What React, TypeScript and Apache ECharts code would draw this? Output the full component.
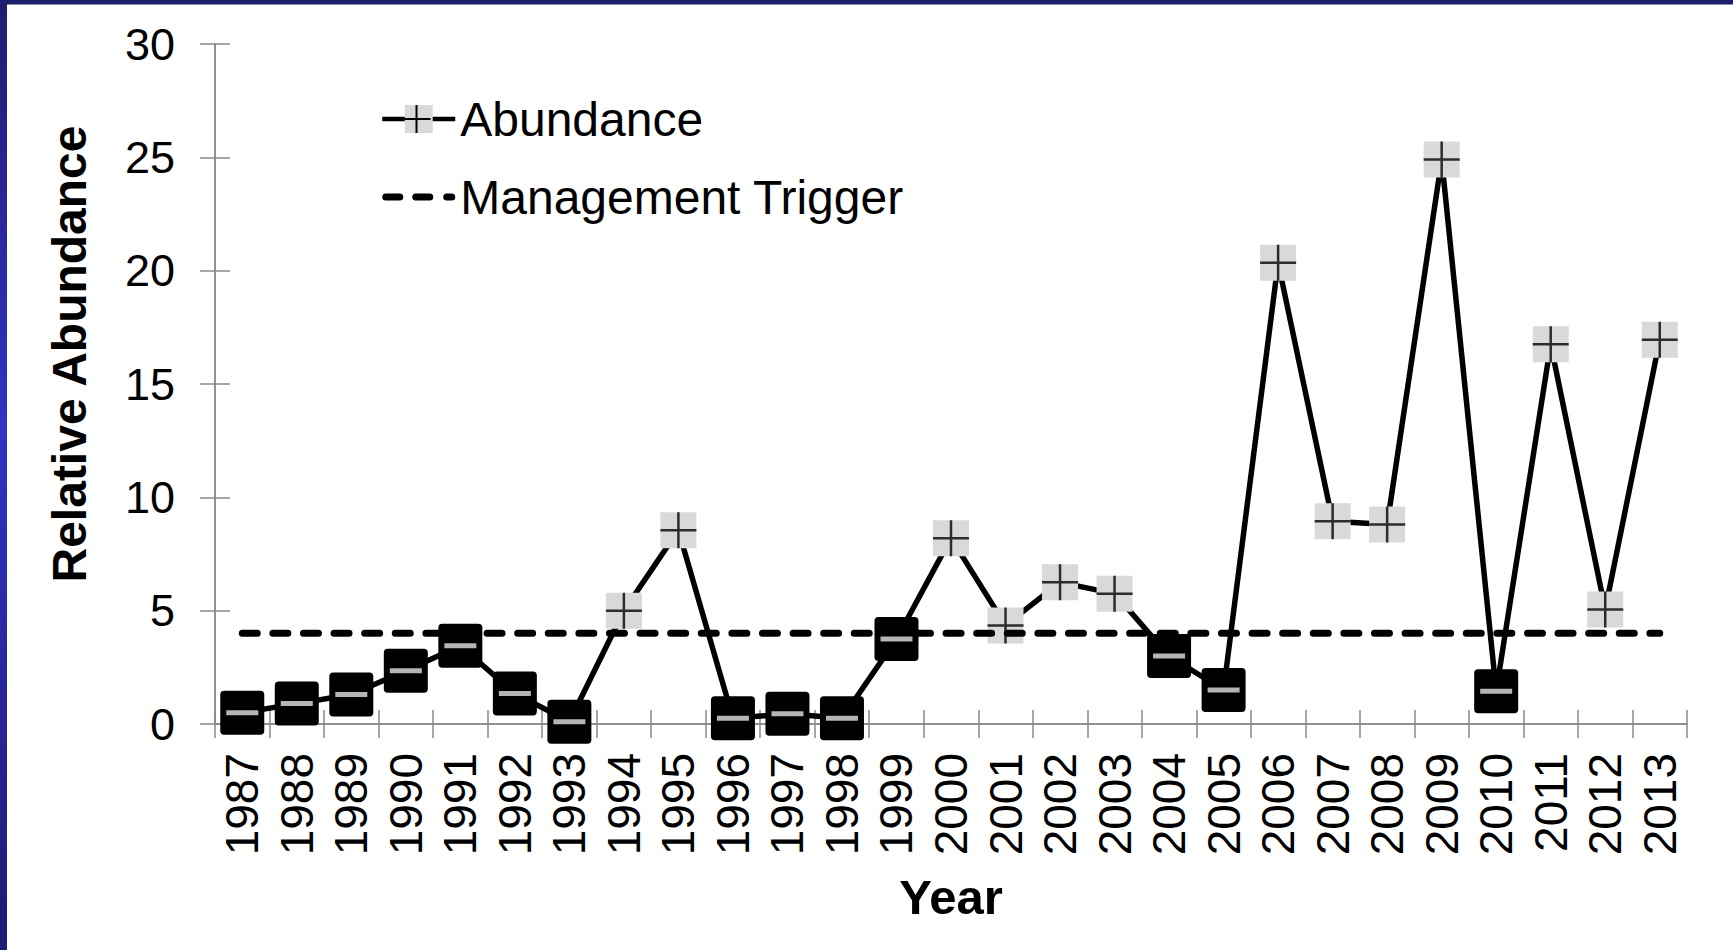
import React, { useEffect, useRef } from "react";
import * as echarts from "echarts";

const years = [
  "1987", "1988", "1989", "1990", "1991", "1992", "1993", "1994", "1995",
  "1996", "1997", "1998", "1999", "2000", "2001", "2002", "2003", "2004",
  "2005", "2006", "2007", "2008", "2009", "2010", "2011", "2012", "2013",
];
const abundance = [
  0.5, 0.9, 1.3, 2.35, 3.45, 1.35, 0.1, 5.0, 8.55,
  0.25, 0.45, 0.25, 3.75, 8.2, 4.35, 6.25, 5.75, 3.0,
  1.5, 20.35, 8.95, 8.8, 24.9, 1.45, 16.75, 5.05, 16.95,
];
const triggerLevel = 4;
const yTicks = { min: 0, max: 30, interval: 5 };

const FONT = "'Liberation Sans', Arial, sans-serif";
const BLACK_BOX =
  "path://M4,0H40Q44,0 44,4V40Q44,44 40,44H4Q0,44 0,40V4Q0,0 4,0Z";
const PLUS = "path://M16.75,0H19.25V36H16.75Z M0,16.75H16.75V19.25H0Z M19.25,16.75H36V19.25H19.25Z";
const DASH_ICON =
  "path://M3.5,0H17.5Q21,0 21,3.5Q21,7 17.5,7H3.5Q0,7 0,3.5Q0,0 3.5,0Z M33.5,0H47.5Q51,0 51,3.5Q51,7 47.5,7H33.5Q30,7 30,3.5Q30,0 33.5,0Z M64.5,0H69.5Q73,0 73,3.5Q73,7 69.5,7H64.5Q61,7 61,3.5Q61,0 64.5,0Z";

export default function App() {
  const ref = useRef<HTMLDivElement>(null);

  useEffect(() => {
    if (!ref.current) return;
    const chart = echarts.init(ref.current, undefined, { renderer: "svg" });

    const markerData = abundance.map((v) =>
      v >= triggerLevel
        ? { value: v, symbol: "rect", symbolSize: 36, itemStyle: { color: "#d9d9d9" } }
        : { value: v, symbol: BLACK_BOX, symbolSize: 44, itemStyle: { color: "#000000" } }
    );
    const overlayData = abundance.map((v) =>
      v >= triggerLevel
        ? { value: v, symbol: PLUS, symbolSize: 36, itemStyle: { color: "#000000" } }
        : { value: v, symbol: "rect", symbolSize: [32, 5], itemStyle: { color: "#e2e2e2" } }
    );

    const axisColor = "#8a8a8a";
    const xBase = {
      type: "category" as const,
      data: years,
      position: "bottom" as const,
      boundaryGap: true,
      axisLine: { show: true, lineStyle: { color: axisColor, width: 1.5 } },
      splitLine: { show: false },
    };
    const yBase = {
      type: "value" as const,
      min: yTicks.min,
      max: yTicks.max,
      interval: yTicks.interval,
      position: "left" as const,
      axisLine: { show: true, lineStyle: { color: axisColor, width: 1.5 } },
      splitLine: { show: false },
    };

    chart.setOption({
      animation: false,
      backgroundColor: "#ffffff",
      grid: { left: 215, right: 46, top: 44, bottom: 226, containLabel: false },
      xAxis: [
        {
          ...xBase,
          name: "Year",
          nameLocation: "middle",
          nameGap: 148,
          nameTextStyle: { fontFamily: FONT, fontSize: 49, fontWeight: "bold", color: "#000" },
          axisTick: { show: true, inside: false, length: 14, interval: 0, lineStyle: { color: axisColor, width: 1.5 } },
          axisLabel: { rotate: 90, interval: 0, margin: 29, fontFamily: FONT, fontSize: 46, color: "#000" },
        },
        {
          ...xBase,
          axisTick: { show: true, inside: true, length: 14, interval: 0, lineStyle: { color: axisColor, width: 1.5 } },
          axisLabel: { show: false },
        },
      ],
      yAxis: [
        {
          ...yBase,
          axisTick: { show: true, inside: false, length: 15, lineStyle: { color: axisColor, width: 1.5 } },
          axisLabel: { margin: 40, fontFamily: FONT, fontSize: 45, color: "#000" },
        },
        {
          ...yBase,
          axisTick: { show: true, inside: true, length: 15, lineStyle: { color: axisColor, width: 1.5 } },
          axisLabel: { show: false },
        },
      ],
      legend: {
        orient: "vertical",
        left: 380,
        top: 93,
        padding: 0,
        itemWidth: 73,
        itemHeight: 35,
        itemGap: 26,
        selectedMode: false,
        textStyle: { fontFamily: FONT, fontSize: 48, lineHeight: 52, color: "#000" },
        data: [
          { name: "Abundance", lineStyle: { color: "#000", width: 4.5 } },
          { name: "Management Trigger", icon: DASH_ICON, itemStyle: { color: "#000" } },
        ],
      },
      series: [
        {
          name: "Abundance",
          type: "line",
          data: markerData,
          symbol: "rect",
          symbolSize: 36,
          showAllSymbol: true,
          itemStyle: { color: "#d9d9d9" },
          lineStyle: { color: "#000", width: 5.5 },
          z: 2,
        },
        {
          name: "Management Trigger",
          type: "line",
          data: years.map(() => triggerLevel),
          symbol: "none",
          itemStyle: { color: "#000" },
          lineStyle: { color: "#000", width: 7, type: [15, 15.6], cap: "round" },
          z: 3,
        },
        {
          name: "markers",
          type: "scatter",
          data: overlayData,
          silent: true,
          z: 4,
        },
      ],
      graphic: [
        {
          type: "rect",
          left: 0,
          top: 0,
          shape: { x: 0, y: 0, width: 1733, height: 4 },
          style: { fill: "#1c1c6c" },
          z: 20,
        },
        {
          type: "rect",
          left: 0,
          top: 4,
          shape: { x: 0, y: 0, width: 1733, height: 1 },
          style: { fill: "#8a8aae" },
          z: 20,
        },
        {
          type: "rect",
          left: 0,
          top: 0,
          shape: { x: 0, y: 0, width: 7, height: 950 },
          style: {
            fill: new echarts.graphic.LinearGradient(0, 0, 0, 1, [
              { offset: 0, color: "#1e1e70" },
              { offset: 0.45, color: "#3232c4" },
              { offset: 1, color: "#1c1c72" },
            ]),
          },
          z: 21,
        },
        {
          type: "rect",
          shape: { x: 415.5, y: 105, width: 2, height: 28 },
          style: { fill: "#000" },
          z: 30,
        },
        {
          type: "rect",
          shape: { x: 402.5, y: 118, width: 28, height: 2 },
          style: { fill: "#000" },
          z: 30,
        },
        {
          type: "text",
          x: 69,
          y: 354,
          rotation: Math.PI / 2,
          style: {
            text: "Relative Abundance",
            fontFamily: FONT,
            fontSize: 48,
            fontWeight: "bold",
            fill: "#000",
            align: "center",
            verticalAlign: "middle",
          },
          z: 10,
        },
      ],
    });

    return () => chart.dispose();
  }, []);

  return (
    <div
      ref={ref}
      style={{ position: "fixed", left: 0, top: 0, width: 1733, height: 950 }}
    />
  );
}
